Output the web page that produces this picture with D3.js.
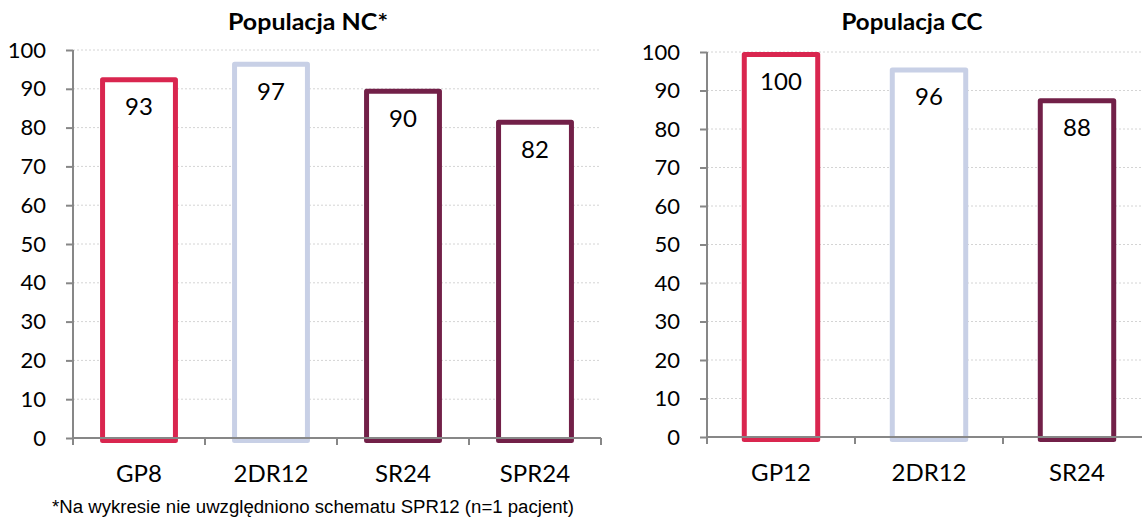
<!DOCTYPE html>
<html>
<head>
<meta charset="utf-8">
<script src="https://cdn.jsdelivr.net/npm/d3@7"></script>
<style>
  html, body { margin: 0; padding: 0; background: #fff; }
  svg { display: block; }
</style>
</head>
<body>
<svg id="chart" width="1142" height="518"></svg>
<script>
// Populacja NC*
const ncCategories = ["GP8", "2DR12", "SR24", "SPR24"];
const ncValues = [93, 97, 90, 82];
// Populacja CC
const ccCategories = ["GP12", "2DR12", "SR24"];
const ccValues = [100, 96, 88];
// shared y axis ticks
const yTicks = [0, 10, 20, 30, 40, 50, 60, 70, 80, 90, 100];
const titles = ["Populacja NC*", "Populacja CC"];
const footnote = "*Na wykresie nie uwzględniono schematu SPR12 (n=1 pacjent)";

const colorMap = {
  "GP8": "#d9264f", "GP12": "#d9264f",
  "2DR12": "#c8d0e6",
  "SR24": "#722048", "SPR24": "#722048"
};

const svg = d3.select("#chart");
const FONT = "Lato, 'Open Sans', sans-serif";
const AXIS = "#878787";

const panels = [
  { cats: ncCategories, vals: ncValues, title: titles[0], titleW: 160,
    x0: 73, x1: 601, pad: 0.41, titleX: 308, yTop: 50, yBottom: 438 },
  { cats: ccCategories, vals: ccValues, title: titles[1], titleW: 141,
    x0: 707, x1: 1151, pad: 0.47, titleX: 912, yTop: 52, yBottom: 437 }
];

panels.forEach(p => {
  const g = svg.append("g");
  const y = d3.scaleLinear().domain([0, 100]).range([p.yBottom, p.yTop]);
  const x = d3.scaleBand().domain(p.cats).range([p.x0, p.x1])
    .paddingInner(p.pad).paddingOuter(p.pad / 2);

  // dotted gridlines
  g.append("g").selectAll("line")
    .data(yTicks.filter(t => t > 0))
    .join("line")
    .attr("x1", p.x0).attr("x2", p.x1)
    .attr("y1", d => y(d)).attr("y2", d => y(d))
    .attr("stroke", "#d4d4d4").attr("stroke-width", 1)
    .attr("stroke-dasharray", "2,2");

  // y axis
  const ya = g.append("g").attr("transform", `translate(${p.x0},0)`)
    .call(d3.axisLeft(y).tickValues(yTicks).tickSize(7).tickPadding(20).tickSizeOuter(0));
  ya.select(".domain").attr("stroke", AXIS).attr("stroke-width", 2)
    .attr("d", `M0,${p.yTop}V${p.yBottom + 7}`);
  ya.selectAll(".tick line").attr("stroke", AXIS).attr("stroke-width", 2);
  ya.selectAll(".tick text").attr("font-family", FONT).attr("font-size", 22)
    .attr("fill", "#000");

  // bars (outlined)
  const sw = 5;
  g.append("g").selectAll("rect")
    .data(p.cats.map((c, i) => ({ c, v: p.vals[i] })))
    .join("rect")
    .attr("x", d => x(d.c) + sw / 2)
    .attr("width", x.bandwidth() - sw)
    .attr("y", d => y(d.v) + sw / 2)
    .attr("height", d => y(0) - y(d.v))
    .attr("fill", "#fff")
    .attr("stroke", d => colorMap[d.c])
    .attr("stroke-width", sw)
    .attr("stroke-linejoin", "round");

  // x axis
  const xa = g.append("g").attr("transform", `translate(0,${p.yBottom})`)
    .call(d3.axisBottom(x).tickSize(0).tickPadding(27));
  xa.select(".domain").remove();
  g.append("line").attr("x1", p.x0).attr("x2", p.x1)
    .attr("y1", p.yBottom).attr("y2", p.yBottom)
    .attr("stroke", AXIS).attr("stroke-width", 2);
  // tick marks between categories
  const bounds = p.cats.map(c => x(c) - x.step() * x.paddingInner() / 2).slice(1);
  bounds.push(p.x1);
  g.append("g").selectAll("line").data(bounds).join("line")
    .attr("x1", d => d).attr("x2", d => d)
    .attr("y1", p.yBottom).attr("y2", p.yBottom + 7)
    .attr("stroke", AXIS).attr("stroke-width", 2);
  xa.selectAll(".tick text").attr("font-family", FONT).attr("font-size", 24)
    .attr("fill", "#000");

  // value labels inside bars
  g.append("g").selectAll("text")
    .data(p.cats.map((c, i) => ({ c, v: p.vals[i] })))
    .join("text")
    .attr("x", d => x(d.c) + x.bandwidth() / 2)
    .attr("y", d => y(d.v) + 38)
    .attr("text-anchor", "middle")
    .attr("font-family", FONT).attr("font-size", 24).attr("fill", "#000")
    .text(d => d.v);

  // title
  g.append("text").attr("x", p.titleX).attr("y", 30)
    .attr("text-anchor", "middle")
    .attr("font-family", FONT).attr("font-weight", "bold")
    .attr("font-size", 22).attr("fill", "#000")
    .attr("textLength", p.titleW).attr("lengthAdjust", "spacingAndGlyphs")
    .text(p.title);
});

svg.append("text").attr("x", 52).attr("y", 513)
  .attr("font-family", "'Liberation Sans', Arial, sans-serif")
  .attr("font-size", 18).attr("fill", "#000")
  .attr("textLength", 522).attr("lengthAdjust", "spacingAndGlyphs")
  .text(footnote);
</script>
</body>
</html>
